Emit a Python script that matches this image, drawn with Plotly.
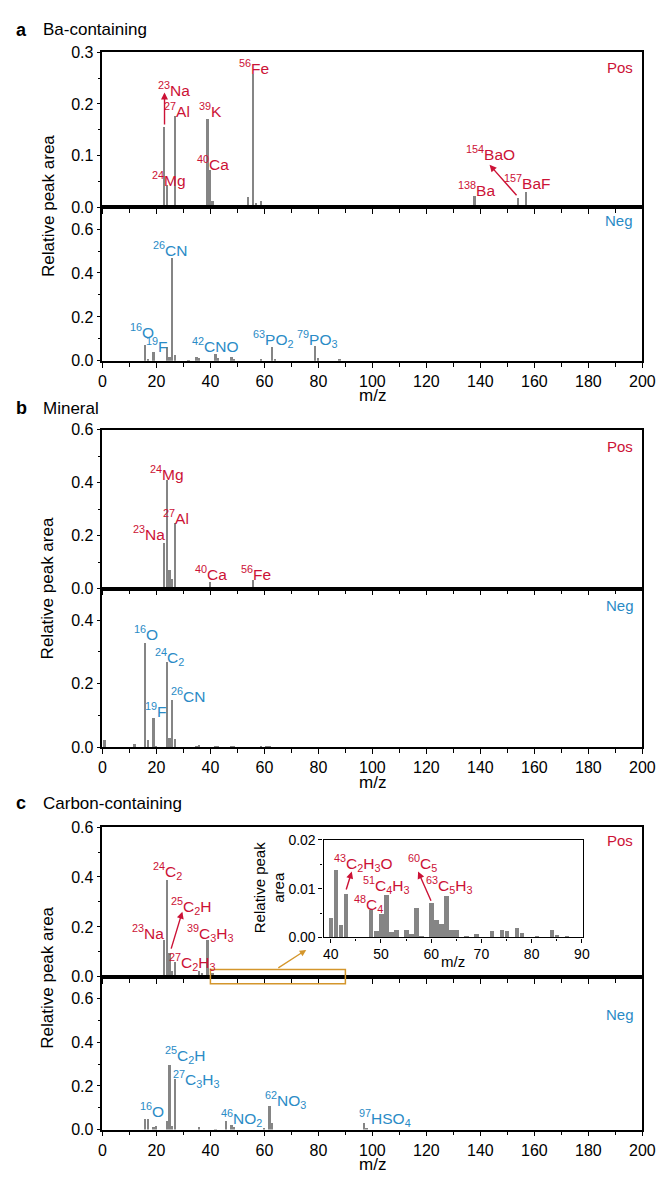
import plotly.graph_objects as go

W, H = 668, 1181

# ---------------- data ----------------
a_pos_mz = [23, 24, 25, 26, 27, 28, 39, 40, 41, 42, 52, 54, 56, 57, 58, 59, 138, 154, 155, 156, 157, 158]
a_pos_val = [0.155, 0.042, 0.003, 0.003, 0.175, 0.003, 0.171, 0.072, 0.011, 0.002, 0.002, 0.018, 0.258,
             0.007, 0.002, 0.011, 0.021, 0.017, 0.002, 0.002, 0.028, 0.004]

a_neg_mz = [16, 17, 19, 24, 25, 26, 27, 32, 35, 36, 42, 43, 48, 49, 59, 63, 64, 79, 80, 88]
a_neg_val = [0.073, 0.009, 0.040, 0.063, 0.018, 0.466, 0.026, 0.002, 0.015, 0.013, 0.031, 0.013, 0.016,
             0.005, 0.004, 0.061, 0.008, 0.066, 0.012, 0.007]

b_pos_mz = [23, 24, 25, 26, 27, 39, 40, 55, 56]
b_pos_val = [0.173, 0.410, 0.071, 0.037, 0.247, 0.005, 0.026, 0.002, 0.031]

b_neg_mz = [1, 12, 16, 17, 19, 20, 24, 25, 26, 27, 35, 36, 42, 43, 48, 49, 59, 61, 62, 79]
b_neg_val = [0.024, 0.012, 0.331, 0.024, 0.092, 0.004, 0.269, 0.031, 0.151, 0.027, 0.004, 0.008, 0.003,
             0.003, 0.006, 0.006, 0.003, 0.006, 0.003, 0.002]

c_pos_low_mz = [12, 23, 24, 25, 26, 27, 28, 29, 36, 37, 38, 39]
c_pos_low_val = [0.003, 0.146, 0.388, 0.094, 0.023, 0.058, 0.005, 0.002, 0.023, 0.016, 0.008, 0.148]

c_pos_inset_mz = [40, 41, 42, 43, 45, 48, 49, 50, 51, 52, 53, 55, 56, 57, 58, 60, 61, 62, 63, 64, 65,
                  67, 69, 72, 74, 75, 77, 78, 81, 84, 85, 87]
c_pos_inset_val = [0.0041, 0.0139, 0.0025, 0.0090, 0.0001, 0.0057, 0.0014, 0.0049, 0.0088, 0.0012, 0.0016,
                   0.0015, 0.0008, 0.0060, 0.0003, 0.0070, 0.0037, 0.0028, 0.0085, 0.0016, 0.0015,
                   0.0002, 0.0007, 0.0014, 0.0016, 0.0014, 0.0019, 0.0009, 0.0003, 0.0016, 0.0005, 0.0003]

c_neg_mz = [16, 17, 19, 20, 24, 25, 26, 27, 36, 42, 46, 48, 49, 60, 62, 63, 97, 98]
c_neg_val = [0.050, 0.050, 0.012, 0.016, 0.039, 0.295, 0.016, 0.232, 0.011, 0.002, 0.038, 0.020, 0.011,
             0.004, 0.109, 0.032, 0.031, 0.010]

x_ticks_main = [0, 20, 40, 60, 80, 100, 120, 140, 160, 180, 200]
panel_titles = [("a", "Ba-containing"), ("b", "Mineral"), ("c", "Carbon-containing")]

# ---------------- style ----------------
FONT = "Liberation Sans, Arial, sans-serif"
BAR = "#858585"
RED = "#CC1236"
BLUE = "#2A8BC6"
ORANGE = "#D4962C"


def fx(p):
    return p / W


def fy(p):
    return 1 - p / H


fig = go.Figure()

# subplot definitions: (x, y, pixel top, pixel bottom, y range, dtick, minor, show x labels)
subplots = [
    (a_pos_mz, a_pos_val, 45, 202, [0, 0.3], 0.1, 0.05, False),
    (a_neg_mz, a_neg_val, 202, 358, [0, 0.7], 0.2, 0.1, True),
    (b_pos_mz, b_pos_val, 428, 589, [0, 0.6], 0.2, 0.1, False),
    (b_neg_mz, b_neg_val, 589, 750, [0, 0.5], 0.2, 0.1, True),
    (c_pos_low_mz + c_pos_inset_mz, c_pos_low_val + c_pos_inset_val, 831, 983, [0, 0.6], 0.2, 0.1, False),
    (c_neg_mz, c_neg_val, 983, 1138, [0, 0.7], 0.2, 0.1, True),
]

layout = {}
for i, (xs, ys, top, bot, yr, dt, mn, showx) in enumerate(subplots, start=1):
    sx = "" if i == 1 else str(i)
    fig.add_trace(go.Bar(x=xs, y=ys, width=0.9, marker=dict(color=BAR, line=dict(width=0)),
                         xaxis="x" + sx, yaxis="y" + sx, showlegend=False, hoverinfo="x+y"))
    layout["xaxis" + sx] = dict(
        domain=[fx(101), fx(655)], anchor="y" + sx, range=[0, 200],
        tickvals=x_ticks_main, showticklabels=showx, ticks="outside", ticklen=5, tickwidth=1.2,
        tickcolor="black", minor=dict(dtick=10, tick0=0, ticks="outside", ticklen=4, tickwidth=1.2, tickcolor="black"),
        showline=True, linecolor="black", linewidth=1.5, mirror=True, showgrid=False, zeroline=False,
        tickfont=dict(size=16, color="black", family=FONT),
    )
    layout["yaxis" + sx] = dict(
        domain=[fy(bot), fy(top)], anchor="x" + sx, range=yr, dtick=dt, tick0=0, tickformat=".1f",
        ticks="outside", ticklen=4, tickwidth=1.2, tickcolor="black",
        minor=dict(dtick=mn, tick0=0, ticks="outside", ticklen=2.5, tickwidth=1.2, tickcolor="black"),
        showline=True, linecolor="black", linewidth=1.5, mirror=True, showgrid=False, zeroline=False,
        tickfont=dict(size=16, color="black", family=FONT),
    )

# inset
fig.add_trace(go.Bar(x=c_pos_inset_mz, y=c_pos_inset_val, width=0.9, marker=dict(color=BAR, line=dict(width=0)),
                     xaxis="x7", yaxis="y7", showlegend=False, hoverinfo="x+y"))
layout["xaxis7"] = dict(
    domain=[fx(328), fx(594)], anchor="y7", range=[38.6, 90.2], dtick=10, tick0=0,
    ticks="outside", ticklen=4, tickwidth=1.2, tickcolor="black",
    minor=dict(dtick=5, tick0=0, ticks="outside", ticklen=2.5, tickwidth=1.2, tickcolor="black"),
    showline=True, linecolor="black", linewidth=1.4, mirror=True, showgrid=False, zeroline=False,
    tickfont=dict(size=14, color="black", family=FONT),
)
layout["yaxis7"] = dict(
    domain=[fy(943), fy(844)], anchor="x7", range=[0, 0.02], dtick=0.01, tick0=0, tickformat=".2f",
    ticks="outside", ticklen=4, tickwidth=1.2, tickcolor="black",
    minor=dict(dtick=0.005, tick0=0, ticks="outside", ticklen=2.5, tickwidth=1.2, tickcolor="black"),
    showline=True, linecolor="black", linewidth=1.4, mirror=True, showgrid=False, zeroline=False,
    tickfont=dict(size=14, color="black", family=FONT),
)

ann = []


def lab(text, x, y, ax, color, size=15.5):
    sx = "" if ax == 1 else str(ax)
    ann.append(dict(text=text, x=x, y=y, xref="x" + sx, yref="y" + sx, showarrow=False,
                    font=dict(size=size, color=color, family=FONT), xanchor="center", yanchor="middle"))


def arrow(x0, y0, x1, y1, ax, color, width=1.4):
    sx = "" if ax == 1 else str(ax)
    ann.append(dict(text="", x=x1, y=y1, ax=x0, ay=y0, xref="x" + sx, yref="y" + sx,
                    axref="x" + sx, ayref="y" + sx, showarrow=True, arrowhead=2, arrowsize=1,
                    arrowwidth=width, arrowcolor=color, standoff=0, startstandoff=0))


# panel a pos
lab("<sup>23</sup>Na", 26.6, 0.229, 1, RED)
arrow(23, 0.157, 23, 0.222, 1, RED)
lab("<sup>27</sup>Al", 27.6, 0.189, 1, RED)
lab("<sup>39</sup>K", 40.0, 0.189, 1, RED)
lab("<sup>24</sup>Mg", 24.7, 0.054, 1, RED)
lab("<sup>40</sup>Ca", 41.0, 0.086, 1, RED)
lab("<sup>56</sup>Fe", 56.3, 0.272, 1, RED)
lab("<sup>138</sup>Ba", 138.4, 0.036, 1, RED)
lab("<sup>154</sup>BaO", 143.7, 0.105, 1, RED)
lab("<sup>157</sup>BaF", 157.6, 0.048, 1, RED)
arrow(153.9, 0.020, 143.4, 0.082, 1, RED)
lab("Pos", 191.6, 0.271, 1, RED, 15)
# panel a neg
lab("<sup>16</sup>O", 14.7, 0.136, 2, BLUE)
lab("<sup>19</sup>F", 20.1, 0.073, 2, BLUE)
lab("<sup>26</sup>CN", 25.0, 0.507, 2, BLUE)
lab("<sup>42</sup>CNO", 41.8, 0.073, 2, BLUE)
lab("<sup>63</sup>PO<sub>2</sub>", 63.3, 0.100, 2, BLUE)
lab("<sup>79</sup>PO<sub>3</sub>", 79.8, 0.100, 2, BLUE)
lab("Neg", 191.3, 0.637, 2, BLUE, 15)
# panel b pos
lab("<sup>24</sup>Mg", 24.1, 0.437, 3, RED)
lab("<sup>23</sup>Na", 17.3, 0.209, 3, RED)
lab("<sup>27</sup>Al", 27.1, 0.269, 3, RED)
lab("<sup>40</sup>Ca", 40.1, 0.060, 3, RED)
lab("<sup>56</sup>Fe", 56.8, 0.060, 3, RED)
lab("Pos", 191.6, 0.537, 3, RED, 15)
# panel b neg
lab("<sup>16</sup>O", 16.1, 0.361, 4, BLUE)
lab("<sup>19</sup>F", 19.9, 0.118, 4, BLUE)
lab("<sup>24</sup>C<sub>2</sub>", 24.8, 0.285, 4, BLUE)
lab("<sup>26</sup>CN", 31.8, 0.166, 4, BLUE)
lab("Neg", 191.6, 0.447, 4, BLUE, 15)
# panel c pos
lab("<sup>24</sup>C<sub>2</sub>", 24.1, 0.425, 5, RED)
lab("<sup>25</sup>C<sub>2</sub>H", 33.1, 0.283, 5, RED)
lab("<sup>23</sup>Na", 17.0, 0.178, 5, RED)
lab("<sup>39</sup>C<sub>3</sub>H<sub>3</sub>", 40.0, 0.176, 5, RED)
lab("<sup>27</sup>C<sub>2</sub>H<sub>3</sub>", 33.2, 0.061, 5, RED)
arrow(25.3, 0.107, 29.6, 0.261, 5, RED)
lab("Pos", 191.6, 0.545, 5, RED, 15)
# inset
lab("<sup>43</sup>C<sub>2</sub>H<sub>3</sub>O", 46.6, 0.0152, 7, RED)
arrow(43.0, 0.0095, 44.2, 0.0135, 7, RED)
lab("<sup>51</sup>C<sub>4</sub>H<sub>3</sub>", 51.2, 0.0107, 7, RED)
lab("<sup>48</sup>C<sub>4</sub>", 47.5, 0.0069, 7, RED)
lab("<sup>60</sup>C<sub>5</sub>", 58.2, 0.0152, 7, RED)
arrow(60.1, 0.0072, 57.4, 0.0135, 7, RED)
lab("<sup>63</sup>C<sub>5</sub>H<sub>3</sub>", 63.7, 0.0107, 7, RED)
# panel c neg
lab("<sup>16</sup>O", 18.4, 0.088, 6, BLUE)
lab("<sup>25</sup>C<sub>2</sub>H", 30.9, 0.340, 6, BLUE)
lab("<sup>27</sup>C<sub>3</sub>H<sub>3</sub>", 34.7, 0.230, 6, BLUE)
lab("<sup>46</sup>NO<sub>2</sub>", 51.4, 0.054, 6, BLUE)
lab("<sup>62</sup>NO<sub>3</sub>", 67.8, 0.136, 6, BLUE)
lab("<sup>97</sup>HSO<sub>4</sub>", 104.7, 0.054, 6, BLUE)
lab("Neg", 191.6, 0.527, 6, BLUE, 15)

# orange zoom box and arrow
shapes = [dict(type="rect", xref="x5", yref="paper", x0=40, x1=90, y0=fy(990), y1=fy(975.5),
               line=dict(color=ORANGE, width=1.5), fillcolor="rgba(0,0,0,0)", layer="above")]
arrow(64.6, 0.032, 75.5, 0.108, 5, ORANGE, 1.3)

# panel titles, axis titles
header_y = [22, 406, 807]
for (letter, name), hy in zip(panel_titles, header_y):
    ann.append(dict(text="<b>" + letter + "</b>", x=fx(10), y=fy(hy), xref="paper", yref="paper",
                    showarrow=False, xanchor="left", yanchor="middle",
                    font=dict(size=18, color="black", family=FONT)))
    ann.append(dict(text=name, x=fx(38), y=fy(hy), xref="paper", yref="paper",
                    showarrow=False, xanchor="left", yanchor="middle",
                    font=dict(size=17, color="black", family=FONT)))

for cy in [201, 589, 984]:
    ann.append(dict(text="Relative peak area", x=fx(45), y=fy(cy), xref="paper", yref="paper",
                    showarrow=False, textangle=-90, xanchor="center", yanchor="middle",
                    font=dict(size=17, color="black", family=FONT)))
for my in [393, 786, 1173]:
    ann.append(dict(text="m/z", x=fx(378), y=fy(my), xref="paper", yref="paper",
                    showarrow=False, xanchor="center", yanchor="middle",
                    font=dict(size=17, color="black", family=FONT)))

ann.append(dict(text="Relative peak<br>area", x=fx(272), y=fy(893), xref="paper", yref="paper",
                showarrow=False, textangle=-90, xanchor="center", yanchor="middle",
                font=dict(size=15, color="black", family=FONT)))
ann.append(dict(text="m/z", x=fx(461), y=fy(967), xref="paper", yref="paper",
                showarrow=False, xanchor="center", yanchor="middle",
                font=dict(size=15, color="black", family=FONT)))

fig.update_layout(
    width=W, height=H, margin=dict(l=0, r=0, t=0, b=0),
    paper_bgcolor="white", plot_bgcolor="white",
    font=dict(family=FONT, color="black"),
    annotations=ann, shapes=shapes, bargap=0, showlegend=False,
    **layout,
)

fig.write_html("out.html")
